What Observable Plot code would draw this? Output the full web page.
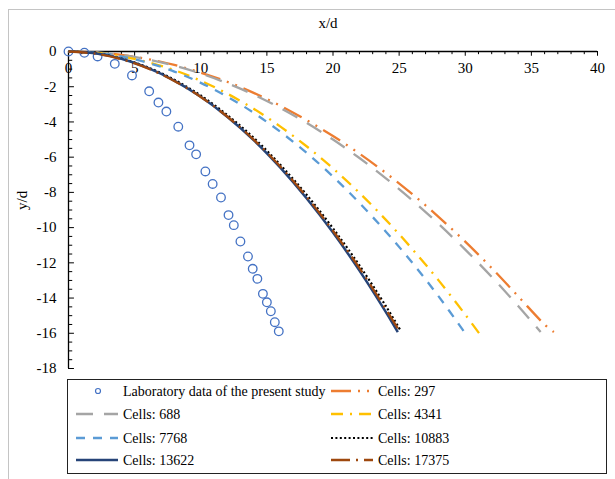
<!DOCTYPE html>
<html>
<head>
<meta charset="utf-8">
<script src="https://cdn.jsdelivr.net/npm/d3@7"></script>
<script src="https://cdn.jsdelivr.net/npm/@observablehq/plot@0.6"></script>
<style>
  html, body { margin: 0; padding: 0; background: #fff; }
  #wrap { position: relative; width: 615px; height: 479px; overflow: hidden; font-family: "Liberation Serif", "Times New Roman", serif; }
  #frame { position: absolute; left: 8px; top: 9px; width: 700px; height: 600px; border-left: 1px solid #c4c4c4; border-top: 1px solid #c4c4c4; }
  #chart { position: absolute; left: 0; top: 0; }
  #legend { position: absolute; left: 67px; top: 379px; }
</style>
</head>
<body>
<div id="wrap"><div id="frame"></div><div id="chart"></div><div id="legend"></div></div>
<script>
// ---- data ----
const xTickLabels = [0, 5, 10, 15, 20, 25, 30, 35, 40];
const yTickLabels = [0, -2, -4, -6, -8, -10, -12, -14, -16, -18];

const labX = [0, 1.2, 2.2, 3.5, 4.8, 6.1, 6.8, 7.4, 8.3, 9.15, 9.65, 10.35, 10.9, 11.53, 12.1, 12.5, 13.0, 13.57, 13.93, 14.28, 14.7, 15.0, 15.3, 15.6, 15.9];
const labY = [0, -0.07, -0.28, -0.7, -1.36, -2.26, -2.9, -3.41, -4.27, -5.33, -5.84, -6.81, -7.52, -8.29, -9.29, -9.86, -10.79, -11.64, -12.34, -12.91, -13.76, -14.24, -14.75, -15.37, -15.89];

const c297X = [0, 2, 4, 6, 8, 10, 12, 14, 16, 18, 20, 22, 24, 26, 28, 30, 32, 34, 36, 36.7];
const c297Y = [0, -0.05, -0.19, -0.43, -0.76, -1.2, -1.72, -2.35, -3.07, -3.9, -4.8, -5.8, -6.9, -8.1, -9.4, -10.8, -12.3, -13.9, -15.5, -15.93];

const c688X = [0, 2, 4, 6, 8, 10, 12, 14, 16, 18, 20, 22, 24, 26, 28, 30, 32, 34, 35.7];
const c688Y = [0, -0.05, -0.2, -0.45, -0.8, -1.25, -1.8, -2.45, -3.2, -4.05, -5.0, -6.05, -7.2, -8.45, -9.8, -11.25, -12.8, -14.45, -15.93];

const c4341X = [0, 2, 4, 6, 8, 10, 12, 14, 16, 18, 20, 22, 24, 26, 28, 30, 31.05];
const c4341Y = [0, -0.07, -0.27, -0.6, -1.06, -1.66, -2.39, -3.25, -4.25, -5.38, -6.64, -8.03, -9.56, -11.22, -13.01, -14.94, -16.0];

const c7768X = [0, 2, 4, 6, 8, 10, 12, 14, 16, 18, 20, 22, 24, 26, 28, 29.9];
const c7768Y = [0, -0.07, -0.28, -0.64, -1.14, -1.78, -2.56, -3.48, -4.55, -5.75, -7.1, -8.6, -10.23, -12.0, -13.92, -15.9];

const c10883X = [0, 2, 4, 6, 8, 10, 12, 14, 16, 18, 20, 22, 24, 25.1];
const c10883Y = [0, -0.1, -0.4, -0.9, -1.6, -2.5, -3.6, -4.9, -6.42, -8.13, -10.04, -12.15, -14.46, -15.83];

const c13622X = [0, 2, 4, 6, 8, 10, 12, 14, 16, 18, 20, 22, 24, 24.9];
const c13622Y = [0, -0.1, -0.41, -0.93, -1.65, -2.57, -3.7, -5.03, -6.58, -8.33, -10.28, -12.44, -14.8, -15.94];

const c17375X = [0, 2, 4, 6, 8, 10, 12, 14, 16, 18, 20, 22, 24, 25.0];
const c17375Y = [0, -0.12, -0.44, -0.96, -1.67, -2.58, -3.69, -5.0, -6.52, -8.25, -10.18, -12.3, -14.64, -15.85];

const labName = "Laboratory data of the present study";
const seriesNames = ["Cells: 297", "Cells: 688", "Cells: 4341", "Cells: 7768", "Cells: 10883", "Cells: 13622", "Cells: 17375"];
// ---- styles ----
const seriesStyle = {
  "Cells: 297":   {color: "#ED7D31", dash: "20 7 2 7 2 7", width: 2.3},
  "Cells: 688":   {color: "#A5A5A5", dash: "17 11", width: 2.3},
  "Cells: 4341":  {color: "#FFC000", dash: "12 7 2 7", width: 2.3},
  "Cells: 7768":  {color: "#5B9BD5", dash: "9 8", width: 2.3},
  "Cells: 10883": {color: "#000000", dash: "2 2.4", width: 2.2},
  "Cells: 13622": {color: "#264478", dash: null, width: 2.5},
  "Cells: 17375": {color: "#9E480E", dash: "19 6 2 6", width: 2.3}
};
const seriesXs = [c297X, c688X, c4341X, c7768X, c10883X, c13622X, c17375X];
const seriesYs = [c297Y, c688Y, c4341Y, c7768Y, c10883Y, c13622Y, c17375Y];
const labColor = "#4472C4";

const lab = labX.map((x, i) => ({x, y: labY[i]}));
const lineTables = seriesNames.map((name, k) => seriesXs[k].map((x, i) => ({series: name, x, y: seriesYs[k][i]})));

const xMinor = d3.range(0, 41, 1);
const yMinor = d3.range(0, -18.01, -0.5);

const font = "Liberation Serif, Times New Roman, serif";

const marks = [
  // axis lines
  Plot.ruleY([0], {x1: 0, x2: 40, stroke: "#000", strokeWidth: 1.3}),
  Plot.ruleX([0], {y1: 0, y2: -18, stroke: "#000", strokeWidth: 1.3}),
  // tick marks (pointing into the plot)
  Plot.ruleX(xMinor, {x: d => d, y1: 0, y2: d => (d % 5 === 0 ? -0.27 : -0.18), stroke: "#000", strokeWidth: 1}),
  Plot.ruleY(yMinor, {y: d => d, x1: 0, x2: d => (Math.abs(d) % 2 === 0 ? 0.45 : 0.32), stroke: "#000", strokeWidth: 1}),
  // tick labels
  Plot.text(xTickLabels, {x: d => d, y: 0, dy: 17, text: d => String(d), fontSize: 15, fontFamily: font, fill: "#000"}),
  Plot.text(yTickLabels, {x: 0, y: d => d, dx: -12, text: d => String(d), textAnchor: "end", fontSize: 15, fontFamily: font, fill: "#000"}),
  // axis titles
  Plot.text(["x/d"], {frameAnchor: "top", dy: -34, dx: -5, text: d => d, fontSize: 15, fontFamily: font, fill: "#000"}),
  Plot.text(["y/d"], {frameAnchor: "left", dx: -46, rotate: -90, text: d => d, fontSize: 15, fontFamily: font, fill: "#000"}),
  // lab data
  Plot.dot(lab, {x: "x", y: "y", r: 4.3, stroke: labColor, strokeWidth: 1.3, fill: "none"}),
  // simulated trajectories
  ...lineTables.map(t => {
    const s = seriesStyle[t[0].series];
    return Plot.line(t, {x: "x", y: "y", stroke: s.color, strokeWidth: s.width, strokeDasharray: s.dash, curve: "catmull-rom", strokeLinecap: "butt"});
  })
];

const chart = Plot.plot({
  width: 615,
  height: 378,
  marginTop: 51,
  marginLeft: 68,
  marginRight: 18,
  marginBottom: 10,
  x: {domain: [0, 40], axis: null},
  y: {domain: [-18, 0], axis: null},
  style: {background: "transparent", overflow: "visible", fontFamily: font},
  marks
});
document.getElementById("chart").appendChild(chart);

// ---- legend (below the plot) ----
const lw = 540, lh = 95;
const leg = d3.select("#legend").append("svg").attr("width", lw).attr("height", lh);
leg.append("rect").attr("x", 0.5).attr("y", 0.5).attr("width", lw - 1).attr("height", lh - 1)
  .attr("fill", "#fff").attr("stroke", "#222").attr("stroke-width", 1);
const legendEntries = [labName, ...seriesNames];
const rowY = [12, 35, 59, 81];
const colSym = [9, 264];
const colText = [56, 311];
legendEntries.forEach((name, i) => {
  const row = Math.floor(i / 2), col = i % 2;
  const g = leg.append("g");
  const y = rowY[row];
  if (name === labName) {
    g.append("circle").attr("cx", colSym[col] + 22).attr("cy", y).attr("r", 2.5)
      .attr("fill", "none").attr("stroke", labColor).attr("stroke-width", 1.2);
  } else {
    const s = seriesStyle[name];
    g.append("line").attr("x1", colSym[col]).attr("x2", colSym[col] + 42).attr("y1", y).attr("y2", y)
      .attr("stroke", s.color).attr("stroke-width", s.width).attr("stroke-dasharray", s.dash);
  }
  g.append("text").attr("x", colText[col]).attr("y", y).attr("dy", "0.35em")
    .attr("font-family", font).attr("font-size", 14).attr("fill", "#000").text(name);
});
</script>
</body>
</html>
